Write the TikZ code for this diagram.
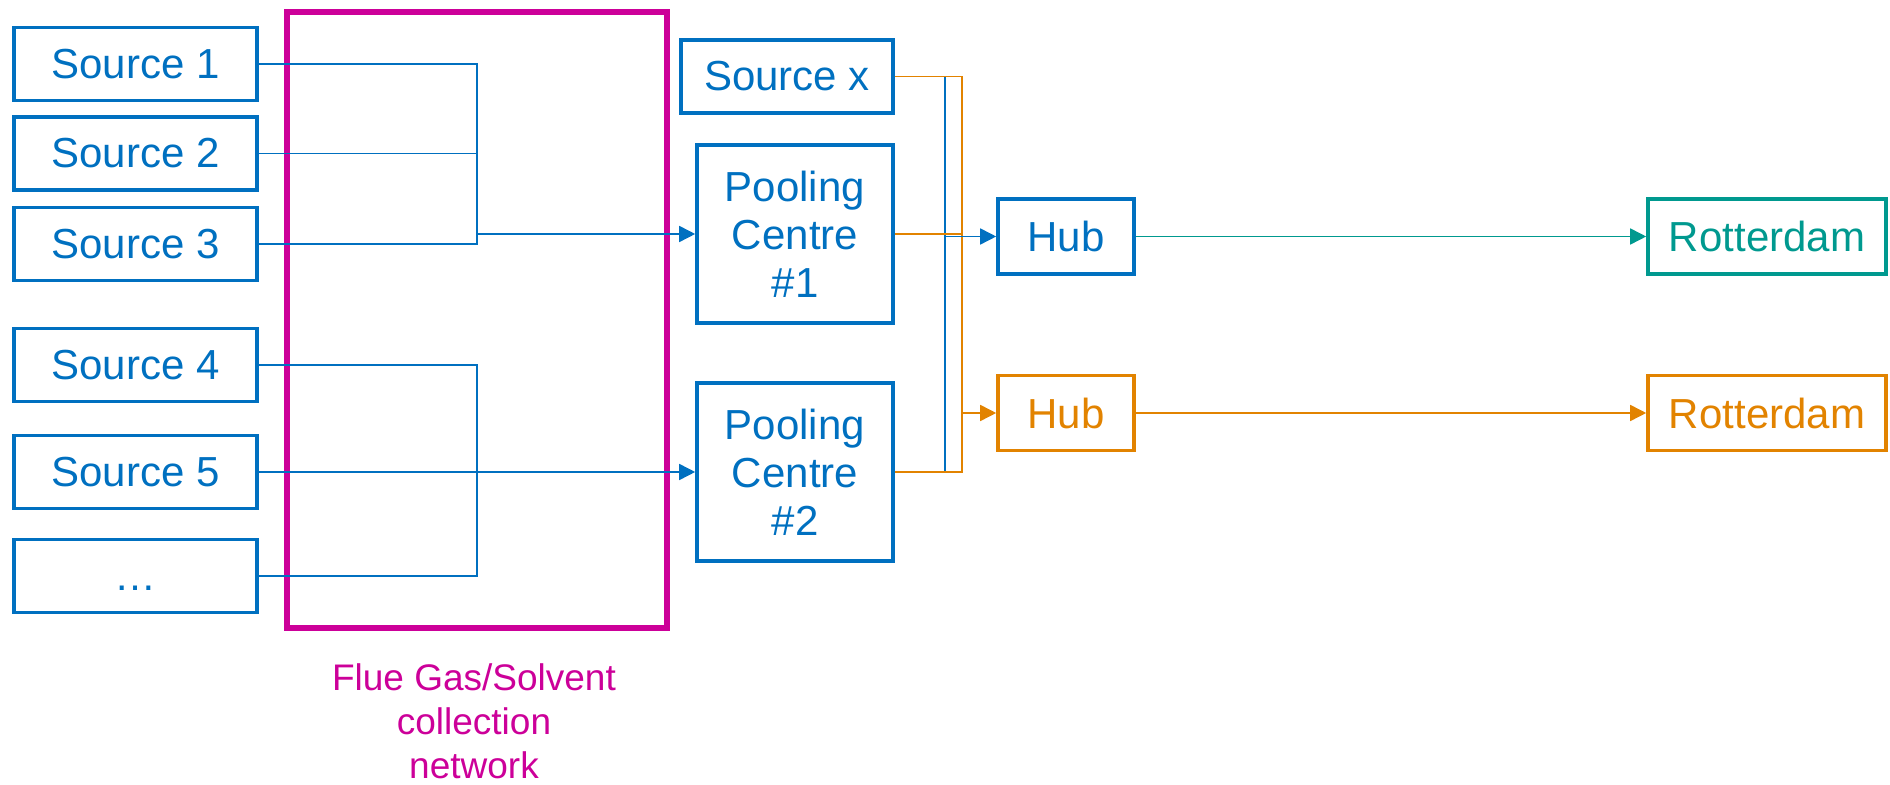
\documentclass[tikz,border=0pt]{standalone}
\usepackage{fontspec}
\setmainfont{Liberation Sans}
\usetikzlibrary{arrows.meta}
\definecolor{cblue}{RGB}{0,112,192}
\definecolor{corange}{RGB}{226,131,0}
\definecolor{cteal}{RGB}{0,153,143}
\definecolor{cmagenta}{RGB}{204,0,153}
\begin{document}
\begin{tikzpicture}[x=0.5pt,y=-0.5pt,
  box/.style={draw=#1,text=#1,line width=1.8pt,rectangle,inner sep=0pt,
    font=\fontsize{21}{24}\selectfont,align=center},
  box/.default=cblue,
  srcbox/.style={box,minimum width=121.5pt,minimum height=36.5pt},
  poolbox/.style={box,minimum width=98pt,minimum height=89pt},
  hubbox/.style={box=#1,minimum width=68pt,minimum height=37.5pt},
  rotbox/.style={box=#1,minimum width=119pt,minimum height=37.5pt},
  feed/.style={draw=cblue,line width=0.6pt},
  link/.style={draw=#1,line width=0.8pt},
  tip/.style={-{Triangle[length=8pt,width=8pt]}}
]
\useasboundingbox (0,0) rectangle (1890,785);

% collection network frame and its caption
\node[draw=cmagenta,line width=2.6pt,minimum width=190pt,minimum height=308pt,inner sep=0pt] (net) at (477,320) {};
\node[text=cmagenta,align=center,font=\fontsize{18.5}{22}\selectfont,anchor=north] (netlabel) at (474,657)
  {Flue Gas/Solvent\\collection\\network};

% sources
\node[srcbox] (s1) at (135.5,64) {Source 1};
\node[srcbox] (s2) at (135.5,153.5) {Source 2};
\node[srcbox] (s3) at (135.5,244) {Source 3};
\node[srcbox] (s4) at (135.5,365) {Source 4};
\node[srcbox] (s5) at (135.5,472) {Source 5};
\node[srcbox] (s6) at (135.5,576) {\vphantom{S}\dots};

% pooling centres and the extra source
\node[box,minimum width=106pt,minimum height=36.5pt] (sx) at (787,76.5) {Source x};
\node[poolbox] (pc1) at (795,234) {Pooling\\Centre\\\#1};
\node[poolbox] (pc2) at (795,472) {Pooling\\Centre\\\#2};

% hubs and destinations
\node[hubbox=cblue] (hub1) at (1066,236.5) {Hub};
\node[hubbox=corange] (hub2) at (1066,413) {Hub};
\node[rotbox=cteal] (rot1) at (1767,236.5) {Rotterdam};
\node[rotbox=corange] (rot2) at (1767,413) {Rotterdam};

% junction columns
\coordinate (jt) at (477,234);
\coordinate (jb) at (477,472);
\coordinate (bx) at (945,236.5);
\coordinate (ox) at (962,413);

% upper collection branch
\draw[feed] (s1.east) -- (s1.east -| jt) -- (s3.east -| jt) -- (s3.east);
\draw[feed] (s2.east) -- (s2.east -| jt);
\draw[link=cblue,tip] (jt) -- (pc1.west);

% lower collection branch
\draw[feed] (s4.east) -- (s4.east -| jb) -- (s6.east -| jb) -- (s6.east);
\draw[feed] (s5.east) -- (jb);
\draw[link=cblue,tip] (jb) -- (pc2.west);

% blue route to the first hub
\draw[feed] (sx.east) -- (sx.east -| bx) -- (pc2.east -| bx) -- (pc2.east);
\draw[feed] (pc1.east) -- (pc1.east -| bx);
% orange route to the second hub
\draw[link=corange,line width=0.7pt] (sx.east) -- (sx.east -| ox) -- (pc2.east -| ox) -- (pc2.east);
\draw[link=corange,line width=0.7pt] (pc1.east) -- (pc1.east -| ox);
\draw[link=corange,tip] (ox) -- (hub2.west);
\draw[link=cblue,tip] (bx) -- (hub1.west);

% onward transport
\draw[link=cteal,tip] (hub1.east) -- (rot1.west);
\draw[link=corange,tip] (hub2.east) -- (rot2.west);
\end{tikzpicture}
\end{document}
